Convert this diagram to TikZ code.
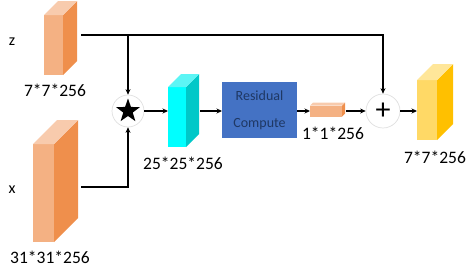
\documentclass[tikz,border=0pt]{standalone}
\usepackage{fontspec}
\setmainfont{Carlito}
\usetikzlibrary{arrows.meta,calc,shapes.geometric}
\definecolor{zfront}{HTML}{F4B183}
\definecolor{zside}{HTML}{EF8F4C}
\definecolor{ztop}{HTML}{F8CBAD}
\definecolor{cfront}{HTML}{00FFFF}
\definecolor{cside}{HTML}{00C8C8}
\definecolor{ctop}{HTML}{5CF5F5}
\definecolor{yfront}{HTML}{FFD966}
\definecolor{yside}{HTML}{FFC000}
\definecolor{ytop}{HTML}{FFE699}
\definecolor{resblue}{HTML}{4472C4}
\definecolor{restext}{HTML}{1F3864}
\newcommand{\mycuboid}[9]{%
  \node[face, fill=#7, minimum width=#4pt, minimum height=#5pt] (#1) at (#2,#3) {};
  \fill[#8] (#1.north east) -- ++(#6,-#6) -- ++(0,#5) -- (#1.south east) -- cycle;
  \fill[#9] (#1.north west) -- ++(#6,-#6) -- ++(#4,0) -- (#1.north east) -- cycle;
}
\begin{document}
\begin{tikzpicture}[x=1pt,y=-1pt,
  face/.style={draw=none, inner sep=0pt, outer sep=0pt},
  conn/.style={line width=1.2pt, -{Stealth[length=5.5pt,width=5pt]}},
  wire/.style={line width=1.2pt},
  lbl/.style={font=\fontsize{17.5}{17.5}\selectfont, inner sep=0pt},
  op/.style={circle, draw=black!12, fill=white, inner sep=0pt, line width=0.7pt}]
\useasboundingbox (0,0) rectangle (474,276);
\mycuboid{z}{53.5}{45}{19}{60}{14}{zfront}{zside}{ztop}
\mycuboid{x}{43.5}{193}{21}{98}{24}{zfront}{zside}{ztop}
\mycuboid{cy}{177}{117}{18}{60}{13}{cfront}{cside}{ctop}
\mycuboid{sm}{326}{111}{32}{11}{3}{zfront}{zside}{ztop}
\mycuboid{ye}{427}{110}{20}{60}{16}{yfront}{yside}{ytop}

\node[op, minimum size=32pt] (star) at (128,111) {};
\node[star, star points=5, star point ratio=2.5, fill=black, inner sep=0pt, minimum size=25pt] (starsym) at (star) {};
\node[op, minimum size=34pt, font=\fontsize{30}{30}\selectfont] (plus) at (383,111) {+};

\node[face, fill=resblue, minimum width=75pt, minimum height=56pt, text=restext,
      align=center, font=\fontsize{14}{27}\selectfont] (res) at (259.5,110) {Residual\\Compute};

\node[lbl, font=\fontsize{16}{16}\selectfont] (zl) at (12,42) {z};
\node[lbl, font=\fontsize{16}{16}\selectfont] (xl) at (12,190) {x};
\node[lbl] (l1) at (55,90) {7*7*256};
\node[lbl] (l2) at (50,257) {31*31*256};
\node[lbl] (l3) at (183,163) {25*25*256};
\node[lbl] (l4) at (333,133) {1*1*256};
\node[lbl] (l5) at (435,157) {7*7*256};

\coordinate (zout) at (81,35);
\coordinate (xout) at (81,187);
\coordinate (zbr) at (128,35);
\draw[conn] (zout) -| (plus);
\draw[conn] (zbr) -- (star);
\draw[conn] (xout) -| (star);
\draw[conn] (star) -- (star -| cy.west);
\coordinate (cyout) at (200,111);
\draw[conn] (cyout) -- (cyout -| res.west);
\draw[conn] (res.east |- sm) -- (sm.west);
\coordinate (smout) at (346,111);
\draw[conn] (smout) -- (plus);
\draw[conn] (plus) -- (plus -| ye.west);
\end{tikzpicture}
\end{document}
